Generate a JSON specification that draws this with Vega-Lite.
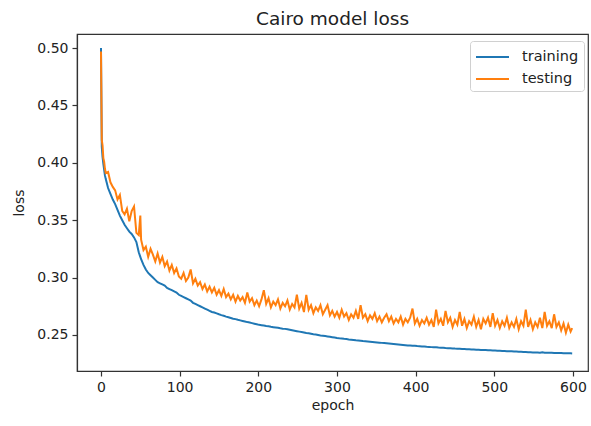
{
  "$schema": "https://vega.github.io/schema/vega-lite/v6.json",
  "width": 511,
  "height": 337,
  "autosize": {"type": "none"},
  "padding": {"left": 77, "top": 34, "right": 3, "bottom": 55},
  "background": "white",
  "config": {
    "font": "DejaVu Sans",
    "view": {"stroke": "#333", "strokeWidth": 1.2},
    "axis": {
      "grid": false,
      "domainColor": "#333",
      "domainWidth": 1.2,
      "tickColor": "#333",
      "tickWidth": 1.2,
      "tickSize": 5,
      "labelFontSize": 14,
      "labelColor": "#222",
      "titleFontSize": 14,
      "titleFontWeight": "normal",
      "titleColor": "#222"
    }
  },
  "title": {"text": "Cairo model loss", "fontSize": 18.5, "fontWeight": "normal", "color": "#222", "offset": 6, "anchor": "middle"},
  "data": {
    "values": [
      {"epoch": 0, "training": 0.5, "testing": 0.497},
      {"epoch": 1, "training": 0.414, "testing": 0.42},
      {"epoch": 2, "training": 0.405, "testing": 0.415},
      {"epoch": 3, "training": 0.399, "testing": 0.404},
      {"epoch": 4, "training": 0.394, "testing": 0.401},
      {"epoch": 5, "training": 0.389, "testing": 0.395},
      {"epoch": 6, "training": 0.386, "testing": 0.391},
      {"epoch": 9, "training": 0.378, "testing": 0.392},
      {"epoch": 12, "training": 0.373, "testing": 0.383},
      {"epoch": 15, "training": 0.368, "testing": 0.379},
      {"epoch": 18, "training": 0.364, "testing": 0.376},
      {"epoch": 21, "training": 0.359, "testing": 0.368},
      {"epoch": 24, "training": 0.354, "testing": 0.372},
      {"epoch": 27, "training": 0.35, "testing": 0.358},
      {"epoch": 30, "training": 0.346, "testing": 0.355},
      {"epoch": 33, "training": 0.343, "testing": 0.36},
      {"epoch": 36, "training": 0.34, "testing": 0.349},
      {"epoch": 39, "training": 0.338, "testing": 0.358},
      {"epoch": 42, "training": 0.335, "testing": 0.362},
      {"epoch": 45, "training": 0.331, "testing": 0.339},
      {"epoch": 48, "training": 0.322, "testing": 0.337},
      {"epoch": 50, "training": 0.318, "testing": 0.354},
      {"epoch": 51, "training": 0.316, "testing": 0.333},
      {"epoch": 54, "training": 0.311, "testing": 0.324},
      {"epoch": 57, "training": 0.307, "testing": 0.327},
      {"epoch": 60, "training": 0.304, "testing": 0.318},
      {"epoch": 63, "training": 0.302, "testing": 0.325},
      {"epoch": 66, "training": 0.3, "testing": 0.32},
      {"epoch": 69, "training": 0.298, "testing": 0.314},
      {"epoch": 72, "training": 0.296, "testing": 0.321},
      {"epoch": 75, "training": 0.295, "testing": 0.313},
      {"epoch": 78, "training": 0.294, "testing": 0.318},
      {"epoch": 81, "training": 0.293, "testing": 0.31},
      {"epoch": 84, "training": 0.291, "testing": 0.314},
      {"epoch": 87, "training": 0.29, "testing": 0.306},
      {"epoch": 90, "training": 0.289, "testing": 0.311},
      {"epoch": 93, "training": 0.288, "testing": 0.304},
      {"epoch": 96, "training": 0.287, "testing": 0.308},
      {"epoch": 99, "training": 0.285, "testing": 0.301},
      {"epoch": 102, "training": 0.284, "testing": 0.299},
      {"epoch": 105, "training": 0.283, "testing": 0.304},
      {"epoch": 108, "training": 0.282, "testing": 0.297},
      {"epoch": 111, "training": 0.281, "testing": 0.3},
      {"epoch": 114, "training": 0.28, "testing": 0.307},
      {"epoch": 117, "training": 0.278, "testing": 0.295},
      {"epoch": 120, "training": 0.277, "testing": 0.299},
      {"epoch": 123, "training": 0.276, "testing": 0.293},
      {"epoch": 126, "training": 0.275, "testing": 0.296},
      {"epoch": 129, "training": 0.274, "testing": 0.29},
      {"epoch": 132, "training": 0.273, "testing": 0.294},
      {"epoch": 135, "training": 0.272, "testing": 0.288},
      {"epoch": 138, "training": 0.271, "testing": 0.292},
      {"epoch": 141, "training": 0.27, "testing": 0.287},
      {"epoch": 144, "training": 0.2695, "testing": 0.291},
      {"epoch": 147, "training": 0.2688, "testing": 0.285},
      {"epoch": 150, "training": 0.268, "testing": 0.289},
      {"epoch": 153, "training": 0.2673, "testing": 0.284},
      {"epoch": 156, "training": 0.2667, "testing": 0.29},
      {"epoch": 159, "training": 0.266, "testing": 0.283},
      {"epoch": 162, "training": 0.2654, "testing": 0.286},
      {"epoch": 165, "training": 0.2648, "testing": 0.281},
      {"epoch": 168, "training": 0.2642, "testing": 0.285},
      {"epoch": 171, "training": 0.2638, "testing": 0.279},
      {"epoch": 174, "training": 0.2632, "testing": 0.284},
      {"epoch": 177, "training": 0.2627, "testing": 0.28},
      {"epoch": 180, "training": 0.2622, "testing": 0.283},
      {"epoch": 183, "training": 0.2617, "testing": 0.278},
      {"epoch": 186, "training": 0.2612, "testing": 0.287},
      {"epoch": 189, "training": 0.2608, "testing": 0.279},
      {"epoch": 192, "training": 0.2603, "testing": 0.282},
      {"epoch": 195, "training": 0.2598, "testing": 0.276},
      {"epoch": 198, "training": 0.2593, "testing": 0.28},
      {"epoch": 201, "training": 0.2588, "testing": 0.275},
      {"epoch": 204, "training": 0.2585, "testing": 0.281},
      {"epoch": 207, "training": 0.2582, "testing": 0.289},
      {"epoch": 210, "training": 0.2578, "testing": 0.277},
      {"epoch": 213, "training": 0.2575, "testing": 0.282},
      {"epoch": 216, "training": 0.2571, "testing": 0.274},
      {"epoch": 219, "training": 0.2568, "testing": 0.279},
      {"epoch": 222, "training": 0.2565, "testing": 0.276},
      {"epoch": 225, "training": 0.2562, "testing": 0.281},
      {"epoch": 228, "training": 0.2558, "testing": 0.273},
      {"epoch": 231, "training": 0.2555, "testing": 0.278},
      {"epoch": 234, "training": 0.2553, "testing": 0.275},
      {"epoch": 237, "training": 0.2549, "testing": 0.28},
      {"epoch": 240, "training": 0.2545, "testing": 0.272},
      {"epoch": 243, "training": 0.2541, "testing": 0.277},
      {"epoch": 246, "training": 0.2537, "testing": 0.274},
      {"epoch": 249, "training": 0.2533, "testing": 0.285},
      {"epoch": 252, "training": 0.2529, "testing": 0.273},
      {"epoch": 255, "training": 0.2525, "testing": 0.278},
      {"epoch": 258, "training": 0.2521, "testing": 0.27},
      {"epoch": 261, "training": 0.2517, "testing": 0.285},
      {"epoch": 264, "training": 0.2514, "testing": 0.272},
      {"epoch": 267, "training": 0.251, "testing": 0.276},
      {"epoch": 270, "training": 0.2506, "testing": 0.269},
      {"epoch": 273, "training": 0.2503, "testing": 0.274},
      {"epoch": 276, "training": 0.25, "testing": 0.271},
      {"epoch": 279, "training": 0.2496, "testing": 0.276},
      {"epoch": 282, "training": 0.2493, "testing": 0.268},
      {"epoch": 285, "training": 0.249, "testing": 0.272},
      {"epoch": 288, "training": 0.2487, "testing": 0.276},
      {"epoch": 291, "training": 0.2484, "testing": 0.267},
      {"epoch": 294, "training": 0.2481, "testing": 0.271},
      {"epoch": 297, "training": 0.2478, "testing": 0.266},
      {"epoch": 300, "training": 0.2474, "testing": 0.27},
      {"epoch": 303, "training": 0.2471, "testing": 0.265},
      {"epoch": 306, "training": 0.2469, "testing": 0.272},
      {"epoch": 309, "training": 0.2466, "testing": 0.266},
      {"epoch": 312, "training": 0.2464, "testing": 0.269},
      {"epoch": 315, "training": 0.2461, "testing": 0.263},
      {"epoch": 318, "training": 0.2459, "testing": 0.268},
      {"epoch": 321, "training": 0.2457, "testing": 0.265},
      {"epoch": 324, "training": 0.2454, "testing": 0.271},
      {"epoch": 327, "training": 0.2452, "testing": 0.264},
      {"epoch": 330, "training": 0.245, "testing": 0.276},
      {"epoch": 333, "training": 0.2447, "testing": 0.265},
      {"epoch": 336, "training": 0.2445, "testing": 0.268},
      {"epoch": 339, "training": 0.2443, "testing": 0.262},
      {"epoch": 342, "training": 0.2441, "testing": 0.267},
      {"epoch": 345, "training": 0.2439, "testing": 0.264},
      {"epoch": 348, "training": 0.2437, "testing": 0.269},
      {"epoch": 351, "training": 0.2435, "testing": 0.262},
      {"epoch": 354, "training": 0.2433, "testing": 0.266},
      {"epoch": 357, "training": 0.2431, "testing": 0.261},
      {"epoch": 360, "training": 0.2429, "testing": 0.265},
      {"epoch": 363, "training": 0.2427, "testing": 0.268},
      {"epoch": 366, "training": 0.2425, "testing": 0.262},
      {"epoch": 369, "training": 0.2423, "testing": 0.266},
      {"epoch": 372, "training": 0.2421, "testing": 0.26},
      {"epoch": 375, "training": 0.2419, "testing": 0.264},
      {"epoch": 378, "training": 0.2417, "testing": 0.261},
      {"epoch": 381, "training": 0.2415, "testing": 0.266},
      {"epoch": 384, "training": 0.2413, "testing": 0.259},
      {"epoch": 387, "training": 0.2411, "testing": 0.264},
      {"epoch": 390, "training": 0.2409, "testing": 0.261},
      {"epoch": 393, "training": 0.2408, "testing": 0.265},
      {"epoch": 396, "training": 0.2406, "testing": 0.273},
      {"epoch": 399, "training": 0.2405, "testing": 0.26},
      {"epoch": 402, "training": 0.2403, "testing": 0.264},
      {"epoch": 405, "training": 0.2402, "testing": 0.258},
      {"epoch": 408, "training": 0.24, "testing": 0.263},
      {"epoch": 411, "training": 0.2399, "testing": 0.26},
      {"epoch": 414, "training": 0.2397, "testing": 0.265},
      {"epoch": 417, "training": 0.2396, "testing": 0.259},
      {"epoch": 420, "training": 0.2394, "testing": 0.263},
      {"epoch": 423, "training": 0.2393, "testing": 0.257},
      {"epoch": 426, "training": 0.2392, "testing": 0.272},
      {"epoch": 429, "training": 0.239, "testing": 0.26},
      {"epoch": 432, "training": 0.2389, "testing": 0.264},
      {"epoch": 435, "training": 0.2388, "testing": 0.258},
      {"epoch": 438, "training": 0.2386, "testing": 0.271},
      {"epoch": 441, "training": 0.2385, "testing": 0.261},
      {"epoch": 444, "training": 0.2384, "testing": 0.265},
      {"epoch": 447, "training": 0.2383, "testing": 0.257},
      {"epoch": 450, "training": 0.2381, "testing": 0.263},
      {"epoch": 453, "training": 0.238, "testing": 0.259},
      {"epoch": 456, "training": 0.2379, "testing": 0.27},
      {"epoch": 459, "training": 0.2378, "testing": 0.258},
      {"epoch": 462, "training": 0.2377, "testing": 0.264},
      {"epoch": 465, "training": 0.2376, "testing": 0.256},
      {"epoch": 468, "training": 0.2375, "testing": 0.262},
      {"epoch": 471, "training": 0.2374, "testing": 0.259},
      {"epoch": 474, "training": 0.2373, "testing": 0.266},
      {"epoch": 477, "training": 0.2372, "testing": 0.257},
      {"epoch": 480, "training": 0.2371, "testing": 0.263},
      {"epoch": 483, "training": 0.237, "testing": 0.255},
      {"epoch": 486, "training": 0.2369, "testing": 0.264},
      {"epoch": 489, "training": 0.2368, "testing": 0.26},
      {"epoch": 492, "training": 0.2367, "testing": 0.265},
      {"epoch": 495, "training": 0.2366, "testing": 0.257},
      {"epoch": 498, "training": 0.2365, "testing": 0.269},
      {"epoch": 501, "training": 0.2364, "testing": 0.258},
      {"epoch": 504, "training": 0.2363, "testing": 0.263},
      {"epoch": 507, "training": 0.2362, "testing": 0.256},
      {"epoch": 510, "training": 0.2361, "testing": 0.262},
      {"epoch": 513, "training": 0.236, "testing": 0.258},
      {"epoch": 516, "training": 0.2359, "testing": 0.265},
      {"epoch": 519, "training": 0.2358, "testing": 0.256},
      {"epoch": 522, "training": 0.2357, "testing": 0.261},
      {"epoch": 525, "training": 0.2356, "testing": 0.257},
      {"epoch": 528, "training": 0.2355, "testing": 0.264},
      {"epoch": 531, "training": 0.2354, "testing": 0.255},
      {"epoch": 534, "training": 0.2353, "testing": 0.262},
      {"epoch": 537, "training": 0.2352, "testing": 0.258},
      {"epoch": 540, "training": 0.2351, "testing": 0.272},
      {"epoch": 543, "training": 0.235, "testing": 0.257},
      {"epoch": 546, "training": 0.2349, "testing": 0.263},
      {"epoch": 549, "training": 0.2348, "testing": 0.255},
      {"epoch": 552, "training": 0.2348, "testing": 0.261},
      {"epoch": 555, "training": 0.2347, "testing": 0.257},
      {"epoch": 558, "training": 0.2346, "testing": 0.265},
      {"epoch": 561, "training": 0.235, "testing": 0.256},
      {"epoch": 564, "training": 0.2345, "testing": 0.27},
      {"epoch": 567, "training": 0.2345, "testing": 0.258},
      {"epoch": 570, "training": 0.2344, "testing": 0.262},
      {"epoch": 573, "training": 0.2344, "testing": 0.256},
      {"epoch": 576, "training": 0.2343, "testing": 0.268},
      {"epoch": 579, "training": 0.2343, "testing": 0.257},
      {"epoch": 582, "training": 0.2342, "testing": 0.261},
      {"epoch": 585, "training": 0.2342, "testing": 0.254},
      {"epoch": 588, "training": 0.2341, "testing": 0.26},
      {"epoch": 591, "training": 0.2341, "testing": 0.252},
      {"epoch": 594, "training": 0.234, "testing": 0.259},
      {"epoch": 597, "training": 0.234, "testing": 0.253},
      {"epoch": 599, "training": 0.2339, "testing": 0.256}
    ]
  },
  "transform": [{"fold": ["training", "testing"], "as": ["series", "loss"]}],
  "mark": {"type": "line", "strokeWidth": 2, "clip": true},
  "encoding": {
    "x": {
      "field": "epoch",
      "type": "quantitative",
      "scale": {"domain": [-30.5, 619.1], "nice": false, "zero": false},
      "axis": {"title": "epoch", "values": [0, 100, 200, 300, 400, 500, 600], "labelPadding": 4, "titlePadding": 4}
    },
    "y": {
      "field": "loss",
      "type": "quantitative",
      "scale": {"domain": [0.2186, 0.5122], "nice": false, "zero": false},
      "axis": {"title": "loss", "values": [0.25, 0.3, 0.35, 0.4, 0.45, 0.5], "format": ".2f", "labelPadding": 4, "titlePadding": 10}
    },
    "color": {
      "field": "series",
      "type": "nominal",
      "scale": {"domain": ["training", "testing"], "range": ["#1f77b4", "#ff7f0e"]},
      "legend": {
        "title": null,
        "orient": "none",
        "legendX": 393,
        "legendY": 7,
        "symbolType": "M-1.65,0H1.65",
        "symbolSize": 400,
        "symbolStrokeWidth": 2,
        "symbolOffset": 6.5,
        "labelFontSize": 14.5,
        "labelColor": "#222",
        "labelOffset": 18.5,
        "rowPadding": 4,
        "padding": 5,
        "strokeColor": "#d0d0d0",
        "fillColor": "white",
        "cornerRadius": 3
      }
    }
  }
}
